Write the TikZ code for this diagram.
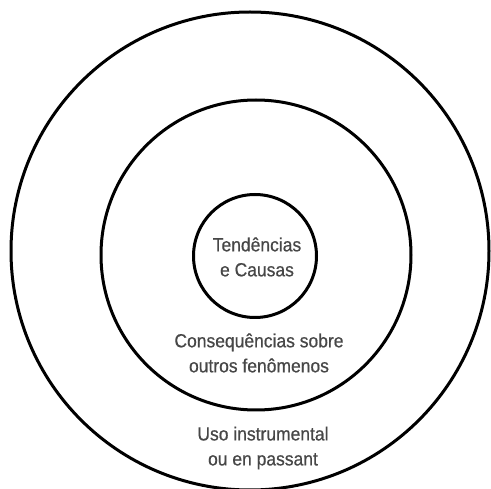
\documentclass[tikz,border=0pt]{standalone}
\usepackage{fontspec}
\setmainfont[FakeStretch=0.92,FakeBold=0.6]{Liberation Sans}
\begin{document}
\begin{tikzpicture}[x=1pt,y=-1pt,
  ring/.style={circle,draw=black,line width=3pt,inner sep=0pt},
  lbl/.style={align=center,text=black!72,font=\fontsize{19}{25}\selectfont}]
\useasboundingbox (0,0) rectangle (491,489);
\node[ring,minimum size=478pt] (outer) at (250,251) {};
\node[ring,minimum size=310pt] (middle) at (256,255) {};
\node[ring,minimum size=123pt] (inner) at (255,256) {};
\node[lbl] (t1) at (257,257) {Tendências\\e Causas};
\node[lbl] (t2) at (259,353) {Consequências sobre\\outros fenômenos};
\node[lbl] (t3) at (263,448) {Uso instrumental\\ou en passant};
\end{tikzpicture}
\end{document}
